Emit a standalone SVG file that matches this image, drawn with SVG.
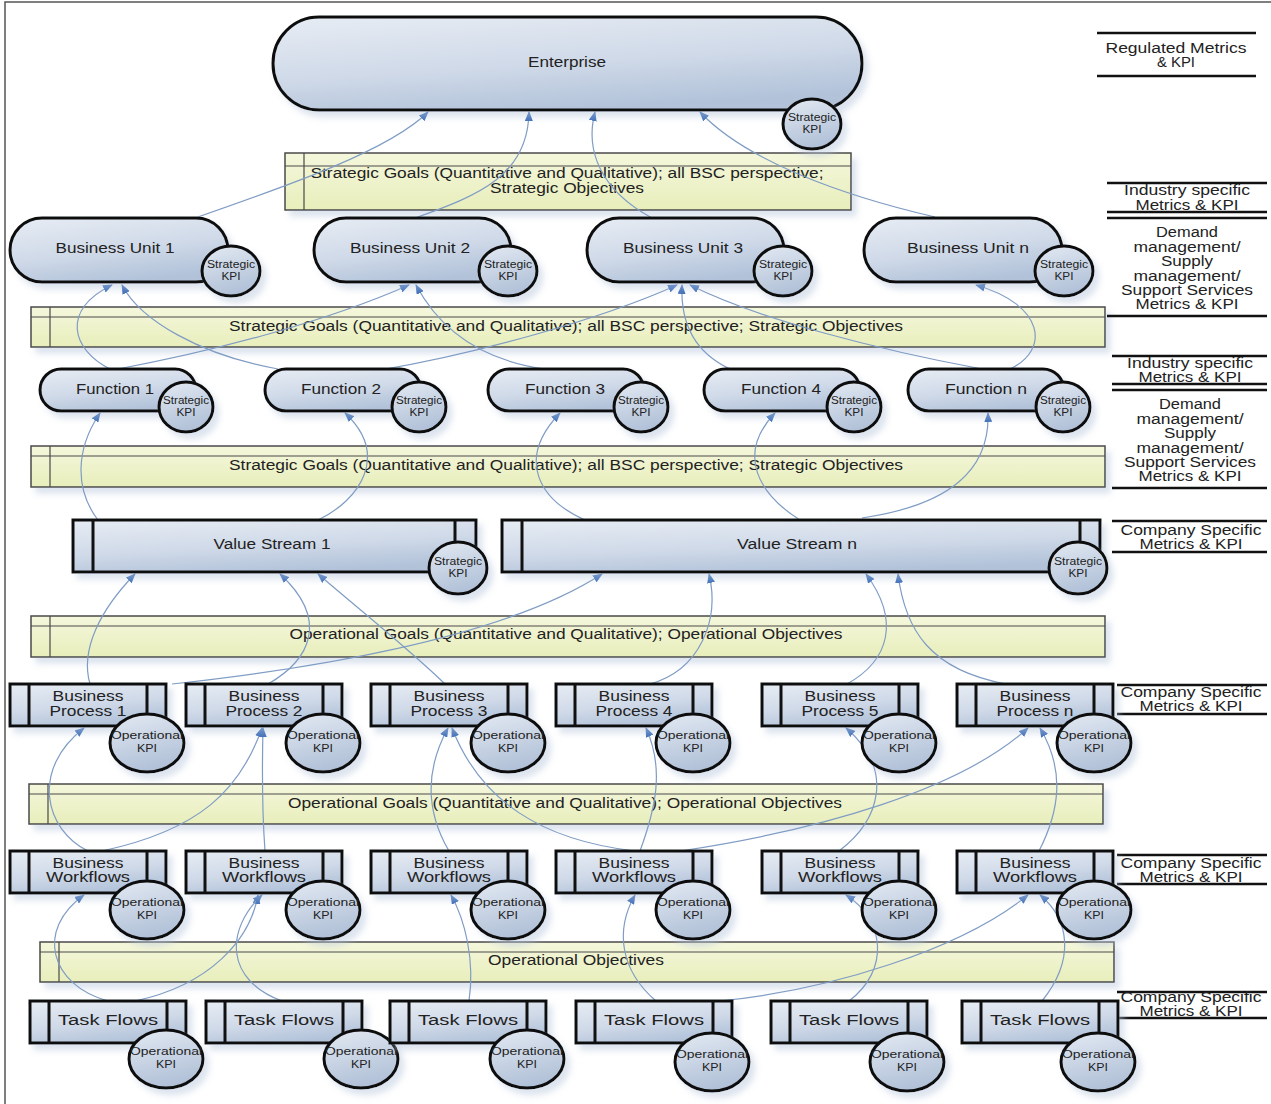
<svg xmlns="http://www.w3.org/2000/svg" width="1271" height="1104" viewBox="0 0 1271 1104">
  <defs>
    <linearGradient id="gNode" x1="0.15" y1="0" x2="0.55" y2="1">
      <stop offset="0" stop-color="#e5ebf3"/>
      <stop offset="0.55" stop-color="#cfd9e8"/>
      <stop offset="1" stop-color="#b1c2d9"/>
    </linearGradient>
    <linearGradient id="gKpi" x1="0.2" y1="0" x2="0.5" y2="1">
      <stop offset="0" stop-color="#e0e7f1"/>
      <stop offset="1" stop-color="#b0c0d7"/>
    </linearGradient>
    <linearGradient id="gBand" x1="0" y1="0" x2="0" y2="1">
      <stop offset="0" stop-color="#f5f7dc"/>
      <stop offset="1" stop-color="#e8eebb"/>
    </linearGradient>
    <filter id="shadow" x="-10%" y="-20%" width="130%" height="160%">
      <feDropShadow dx="5" dy="6" stdDeviation="3" flood-color="#b4c3da" flood-opacity="0.45"/>
    </filter>
    <marker id="arrow" markerUnits="userSpaceOnUse" markerWidth="10" markerHeight="8" refX="9" refY="4" orient="auto">
      <path d="M0,0 L10,4 L0,8 z" fill="#3f6fb8"/>
    </marker>
    <style>
      .node { fill: url(#gNode); stroke: #111; stroke-width: 3; filter: url(#shadow); }
      .col { fill: none; stroke: #111; stroke-width: 3; }
      .kpi { fill: url(#gKpi); stroke: #111; stroke-width: 3; filter: url(#shadow); }
      .band { fill: url(#gBand); stroke: #4a4a4a; stroke-width: 1.5; filter: url(#shadow); }
      .bl { fill: none; stroke: #4a4a4a; stroke-width: 1.2; }
      .t { font-family: "Liberation Sans", Arial, sans-serif; font-size: 14px; fill: #222; text-anchor: middle; }
      .k { font-size: 10px; }
      .conn path { fill: none; stroke: #7f9cc4; stroke-width: 1.2; marker-end: url(#arrow); }
      .rule { stroke: #111; stroke-width: 2.5; }
      .frame { fill: none; stroke: #555; stroke-width: 1.5; }
    </style>
  </defs>

  <rect width="1271" height="1104" fill="#ffffff"/>
  <path class="frame" d="M5,1104 V2 H1271"/>

  <!-- goal / objective bands -->
  <g id="band-strategic-1">
    <rect class="band" x="285" y="153" width="566" height="57"/>
    <path class="bl" d="M285,166 H851 M304,153 V210"/>
    <text class="t" x="567" y="178" textLength="513" lengthAdjust="spacingAndGlyphs">Strategic Goals (Quantitative and Qualitative); all BSC perspective;</text>
    <text class="t" x="567" y="193" textLength="154" lengthAdjust="spacingAndGlyphs">Strategic Objectives</text>
  </g>
  <g id="band-strategic-2">
    <rect class="band" x="31" y="307" width="1074" height="40"/>
    <path class="bl" d="M31,317 H1105 M50,307 V347"/>
    <text class="t" x="566" y="331" textLength="674" lengthAdjust="spacingAndGlyphs">Strategic Goals (Quantitative and Qualitative); all BSC perspective; Strategic Objectives</text>
  </g>
  <g id="band-strategic-3">
    <rect class="band" x="31" y="446" width="1074" height="41"/>
    <path class="bl" d="M31,456 H1105 M50,446 V487"/>
    <text class="t" x="566" y="470" textLength="674" lengthAdjust="spacingAndGlyphs">Strategic Goals (Quantitative and Qualitative); all BSC perspective; Strategic Objectives</text>
  </g>
  <g id="band-operational-1">
    <rect class="band" x="31" y="616" width="1074" height="41"/>
    <path class="bl" d="M31,626 H1105 M50,616 V657"/>
    <text class="t" x="566" y="639" textLength="553" lengthAdjust="spacingAndGlyphs">Operational Goals (Quantitative and Qualitative); Operational Objectives</text>
  </g>
  <g id="band-operational-2">
    <rect class="band" x="29" y="784" width="1074" height="40"/>
    <path class="bl" d="M29,794 H1103 M48,784 V824"/>
    <text class="t" x="565" y="808" textLength="554" lengthAdjust="spacingAndGlyphs">Operational Goals (Quantitative and Qualitative); Operational Objectives</text>
  </g>
  <g id="band-operational-3">
    <rect class="band" x="40" y="942" width="1074" height="40"/>
    <path class="bl" d="M40,952 H1114 M59,942 V982"/>
    <text class="t" x="576" y="965" textLength="176" lengthAdjust="spacingAndGlyphs">Operational Objectives</text>
  </g>

  <!-- metric category labels on the right -->
  <g id="metric-labels">
    <path class="rule" d="M1097,33 H1256 M1097,76 H1256"/>
    <text class="t" x="1176" y="53" textLength="141" lengthAdjust="spacingAndGlyphs">Regulated Metrics</text>
    <text class="t" x="1176" y="67" textLength="38" lengthAdjust="spacingAndGlyphs">&amp; KPI</text>

    <path class="rule" d="M1107,183 H1267 M1107,212 H1267 M1107,218 H1267 M1107,316 H1267"/>
    <text class="t" x="1187" y="195" textLength="126" lengthAdjust="spacingAndGlyphs">Industry specific</text>
    <text class="t" x="1187" y="210" textLength="103" lengthAdjust="spacingAndGlyphs">Metrics &amp; KPI</text>
    <text class="t" x="1187" y="237" textLength="62" lengthAdjust="spacingAndGlyphs">Demand</text>
    <text class="t" x="1187" y="252" textLength="107" lengthAdjust="spacingAndGlyphs">management/</text>
    <text class="t" x="1187" y="266" textLength="52" lengthAdjust="spacingAndGlyphs">Supply</text>
    <text class="t" x="1187" y="281" textLength="107" lengthAdjust="spacingAndGlyphs">management/</text>
    <text class="t" x="1187" y="295" textLength="132" lengthAdjust="spacingAndGlyphs">Support Services</text>
    <text class="t" x="1187" y="309" textLength="103" lengthAdjust="spacingAndGlyphs">Metrics &amp; KPI</text>

    <path class="rule" d="M1112,356 H1267 M1112,384 H1267 M1112,390 H1267 M1112,488 H1267"/>
    <text class="t" x="1190" y="368" textLength="126" lengthAdjust="spacingAndGlyphs">Industry specific</text>
    <text class="t" x="1190" y="382" textLength="103" lengthAdjust="spacingAndGlyphs">Metrics &amp; KPI</text>
    <text class="t" x="1190" y="409" textLength="62" lengthAdjust="spacingAndGlyphs">Demand</text>
    <text class="t" x="1190" y="424" textLength="107" lengthAdjust="spacingAndGlyphs">management/</text>
    <text class="t" x="1190" y="438" textLength="52" lengthAdjust="spacingAndGlyphs">Supply</text>
    <text class="t" x="1190" y="453" textLength="107" lengthAdjust="spacingAndGlyphs">management/</text>
    <text class="t" x="1190" y="467" textLength="132" lengthAdjust="spacingAndGlyphs">Support Services</text>
    <text class="t" x="1190" y="481" textLength="103" lengthAdjust="spacingAndGlyphs">Metrics &amp; KPI</text>

    <path class="rule" d="M1112,521 H1267 M1112,552 H1267"/>
    <text class="t" x="1191" y="535" textLength="141" lengthAdjust="spacingAndGlyphs">Company Specific</text>
    <text class="t" x="1191" y="549" textLength="103" lengthAdjust="spacingAndGlyphs">Metrics &amp; KPI</text>

    <path class="rule" d="M1117,685 H1267 M1117,714 H1267"/>
    <text class="t" x="1191" y="697" textLength="141" lengthAdjust="spacingAndGlyphs">Company Specific</text>
    <text class="t" x="1191" y="711" textLength="103" lengthAdjust="spacingAndGlyphs">Metrics &amp; KPI</text>

    <path class="rule" d="M1117,855 H1267 M1117,884 H1267"/>
    <text class="t" x="1191" y="868" textLength="141" lengthAdjust="spacingAndGlyphs">Company Specific</text>
    <text class="t" x="1191" y="882" textLength="103" lengthAdjust="spacingAndGlyphs">Metrics &amp; KPI</text>

    <path class="rule" d="M1117,992 H1267 M1117,1018 H1267"/>
    <text class="t" x="1191" y="1002" textLength="141" lengthAdjust="spacingAndGlyphs">Company Specific</text>
    <text class="t" x="1191" y="1016" textLength="103" lengthAdjust="spacingAndGlyphs">Metrics &amp; KPI</text>
  </g>

  <!-- contribution links: each curve points up to the node it feeds -->
  <g id="connectors" class="conn">
    <!-- business units to enterprise -->
    <path d="M195,218 C290,185 390,150 428,112"/>
    <path d="M415,218 C480,195 528,175 529,112"/>
    <path d="M652,218 C600,190 585,150 595,112"/>
    <path d="M935,217 C840,195 745,160 700,112"/>
    <!-- functions to business units -->
    <path d="M110,369 C72,350 60,310 112,285"/>
    <path d="M278,369 C200,355 140,320 122,285"/>
    <path d="M118,369 C220,350 330,320 409,285"/>
    <path d="M545,369 C480,360 440,330 416,285"/>
    <path d="M380,370 C470,355 600,320 677,285"/>
    <path d="M730,369 C700,355 680,330 682,285"/>
    <path d="M982,369 C880,350 760,320 690,285"/>
    <path d="M1010,369 C1050,350 1045,305 976,285"/>
    <!-- value streams to functions -->
    <path d="M98,520 C75,490 75,450 100,413"/>
    <path d="M318,520 C360,500 390,455 345,413"/>
    <path d="M585,520 C540,500 515,460 560,413"/>
    <path d="M800,520 C760,495 735,455 775,413"/>
    <path d="M862,518 C950,505 990,470 988,413"/>
    <!-- business processes to value streams -->
    <path d="M90,684 C80,650 100,610 135,574"/>
    <path d="M268,684 C310,660 330,620 280,574"/>
    <path d="M445,684 C410,650 360,610 318,574"/>
    <path d="M172,684 C300,670 500,640 602,574"/>
    <path d="M650,684 C700,670 720,620 709,574"/>
    <path d="M847,684 C890,660 900,620 866,574"/>
    <path d="M1006,684 C930,670 905,630 898,574"/>
    <!-- workflows to business processes -->
    <path d="M88,851 C45,830 30,770 84,728"/>
    <path d="M102,851 C200,830 240,790 262,728"/>
    <path d="M265,851 C262,810 262,770 263,728"/>
    <path d="M449,851 C425,810 425,770 448,728"/>
    <path d="M635,851 C540,840 480,800 452,728"/>
    <path d="M640,851 C655,810 665,770 646,728"/>
    <path d="M680,851 C820,830 960,790 1028,728"/>
    <path d="M839,851 C880,820 895,770 846,728"/>
    <path d="M1039,851 C1060,810 1065,770 1040,728"/>
    <!-- task flows to workflows -->
    <path d="M108,1001 C50,985 35,930 84,895"/>
    <path d="M135,1001 C210,985 250,940 258,895"/>
    <path d="M282,1001 C225,980 225,930 262,895"/>
    <path d="M469,1001 C475,960 465,920 451,895"/>
    <path d="M656,1001 C620,970 615,930 635,895"/>
    <path d="M849,1001 C890,970 885,920 846,895"/>
    <path d="M720,1001 C830,990 960,950 1028,895"/>
    <path d="M1042,1001 C1075,960 1070,920 1040,895"/>
  </g>

  <!-- enterprise -->
  <g id="enterprise">
    <rect class="node" x="273" y="17" width="589" height="93" rx="46"/>
    <text class="t" x="567" y="67" textLength="78" lengthAdjust="spacingAndGlyphs">Enterprise</text>
    <ellipse class="kpi" cx="812" cy="124" rx="29" ry="25"/>
    <text class="t k" x="812" y="121" textLength="48" lengthAdjust="spacingAndGlyphs">Strategic</text>
    <text class="t k" x="812" y="133" textLength="19" lengthAdjust="spacingAndGlyphs">KPI</text>
  </g>

  <!-- business units -->
  <g id="business-unit-1">
    <rect class="node" x="10" y="218" width="218" height="64" rx="32"/>
    <text class="t" x="115" y="253" textLength="119" lengthAdjust="spacingAndGlyphs">Business Unit 1</text>
    <ellipse class="kpi" cx="231" cy="271" rx="29" ry="25"/>
    <text class="t k" x="231" y="268" textLength="48" lengthAdjust="spacingAndGlyphs">Strategic</text>
    <text class="t k" x="231" y="280" textLength="19" lengthAdjust="spacingAndGlyphs">KPI</text>
  </g>
  <g id="business-unit-2">
    <rect class="node" x="314" y="218" width="197" height="64" rx="32"/>
    <text class="t" x="410" y="253" textLength="120" lengthAdjust="spacingAndGlyphs">Business Unit 2</text>
    <ellipse class="kpi" cx="508" cy="271" rx="29" ry="25"/>
    <text class="t k" x="508" y="268" textLength="48" lengthAdjust="spacingAndGlyphs">Strategic</text>
    <text class="t k" x="508" y="280" textLength="19" lengthAdjust="spacingAndGlyphs">KPI</text>
  </g>
  <g id="business-unit-3">
    <rect class="node" x="587" y="218" width="197" height="64" rx="32"/>
    <text class="t" x="683" y="253" textLength="120" lengthAdjust="spacingAndGlyphs">Business Unit 3</text>
    <ellipse class="kpi" cx="783" cy="271" rx="29" ry="25"/>
    <text class="t k" x="783" y="268" textLength="48" lengthAdjust="spacingAndGlyphs">Strategic</text>
    <text class="t k" x="783" y="280" textLength="19" lengthAdjust="spacingAndGlyphs">KPI</text>
  </g>
  <g id="business-unit-n">
    <rect class="node" x="864" y="218" width="198" height="64" rx="32"/>
    <text class="t" x="968" y="253" textLength="122" lengthAdjust="spacingAndGlyphs">Business Unit n</text>
    <ellipse class="kpi" cx="1064" cy="271" rx="29" ry="25"/>
    <text class="t k" x="1064" y="268" textLength="48" lengthAdjust="spacingAndGlyphs">Strategic</text>
    <text class="t k" x="1064" y="280" textLength="19" lengthAdjust="spacingAndGlyphs">KPI</text>
  </g>

  <!-- functions -->
  <g id="function-1">
    <rect class="node" x="40" y="369" width="156" height="42" rx="21"/>
    <text class="t" x="115" y="394" textLength="78" lengthAdjust="spacingAndGlyphs">Function 1</text>
    <ellipse class="kpi" cx="186" cy="407" rx="27" ry="25"/>
    <text class="t k" x="186" y="404" textLength="46" lengthAdjust="spacingAndGlyphs">Strategic</text>
    <text class="t k" x="186" y="416" textLength="19" lengthAdjust="spacingAndGlyphs">KPI</text>
  </g>
  <g id="function-2">
    <rect class="node" x="265" y="369" width="156" height="42" rx="21"/>
    <text class="t" x="341" y="394" textLength="80" lengthAdjust="spacingAndGlyphs">Function 2</text>
    <ellipse class="kpi" cx="419" cy="407" rx="27" ry="25"/>
    <text class="t k" x="419" y="404" textLength="46" lengthAdjust="spacingAndGlyphs">Strategic</text>
    <text class="t k" x="419" y="416" textLength="19" lengthAdjust="spacingAndGlyphs">KPI</text>
  </g>
  <g id="function-3">
    <rect class="node" x="488" y="369" width="156" height="42" rx="21"/>
    <text class="t" x="565" y="394" textLength="80" lengthAdjust="spacingAndGlyphs">Function 3</text>
    <ellipse class="kpi" cx="641" cy="407" rx="27" ry="25"/>
    <text class="t k" x="641" y="404" textLength="46" lengthAdjust="spacingAndGlyphs">Strategic</text>
    <text class="t k" x="641" y="416" textLength="19" lengthAdjust="spacingAndGlyphs">KPI</text>
  </g>
  <g id="function-4">
    <rect class="node" x="704" y="369" width="156" height="42" rx="21"/>
    <text class="t" x="781" y="394" textLength="80" lengthAdjust="spacingAndGlyphs">Function 4</text>
    <ellipse class="kpi" cx="854" cy="407" rx="27" ry="25"/>
    <text class="t k" x="854" y="404" textLength="46" lengthAdjust="spacingAndGlyphs">Strategic</text>
    <text class="t k" x="854" y="416" textLength="19" lengthAdjust="spacingAndGlyphs">KPI</text>
  </g>
  <g id="function-n">
    <rect class="node" x="908" y="369" width="156" height="42" rx="21"/>
    <text class="t" x="986" y="394" textLength="82" lengthAdjust="spacingAndGlyphs">Function n</text>
    <ellipse class="kpi" cx="1063" cy="407" rx="27" ry="25"/>
    <text class="t k" x="1063" y="404" textLength="46" lengthAdjust="spacingAndGlyphs">Strategic</text>
    <text class="t k" x="1063" y="416" textLength="19" lengthAdjust="spacingAndGlyphs">KPI</text>
  </g>

  <!-- value streams -->
  <g id="value-stream-1">
    <rect class="node" x="73" y="520" width="403" height="52"/>
    <path class="col" d="M93,520 V572 M455,520 V572"/>
    <text class="t" x="272" y="549" textLength="117" lengthAdjust="spacingAndGlyphs">Value Stream 1</text>
    <ellipse class="kpi" cx="458" cy="568" rx="29" ry="26"/>
    <text class="t k" x="458" y="565" textLength="48" lengthAdjust="spacingAndGlyphs">Strategic</text>
    <text class="t k" x="458" y="577" textLength="19" lengthAdjust="spacingAndGlyphs">KPI</text>
  </g>
  <g id="value-stream-n">
    <rect class="node" x="502" y="520" width="598" height="52"/>
    <path class="col" d="M522,520 V572 M1080,520 V572"/>
    <text class="t" x="797" y="549" textLength="120" lengthAdjust="spacingAndGlyphs">Value Stream n</text>
    <ellipse class="kpi" cx="1078" cy="568" rx="29" ry="26"/>
    <text class="t k" x="1078" y="565" textLength="48" lengthAdjust="spacingAndGlyphs">Strategic</text>
    <text class="t k" x="1078" y="577" textLength="19" lengthAdjust="spacingAndGlyphs">KPI</text>
  </g>

  <!-- business processes -->
  <g id="business-process-1">
    <rect class="node" x="10" y="684" width="156" height="42"/>
    <path class="col" d="M29,684 V726 M147,684 V726"/>
    <text class="t" x="88" y="701" textLength="71" lengthAdjust="spacingAndGlyphs">Business</text>
    <text class="t" x="88" y="716" textLength="77" lengthAdjust="spacingAndGlyphs">Process 1</text>
    <ellipse class="kpi" cx="147" cy="743" rx="37" ry="29"/>
    <text class="t k" x="147" y="739" textLength="72" lengthAdjust="spacingAndGlyphs">Operational</text>
    <text class="t k" x="147" y="752" textLength="20" lengthAdjust="spacingAndGlyphs">KPI</text>
  </g>
  <g id="business-process-2">
    <rect class="node" x="186" y="684" width="156" height="42"/>
    <path class="col" d="M205,684 V726 M323,684 V726"/>
    <text class="t" x="264" y="701" textLength="71" lengthAdjust="spacingAndGlyphs">Business</text>
    <text class="t" x="264" y="716" textLength="77" lengthAdjust="spacingAndGlyphs">Process 2</text>
    <ellipse class="kpi" cx="323" cy="743" rx="37" ry="29"/>
    <text class="t k" x="323" y="739" textLength="72" lengthAdjust="spacingAndGlyphs">Operational</text>
    <text class="t k" x="323" y="752" textLength="20" lengthAdjust="spacingAndGlyphs">KPI</text>
  </g>
  <g id="business-process-3">
    <rect class="node" x="371" y="684" width="156" height="42"/>
    <path class="col" d="M390,684 V726 M508,684 V726"/>
    <text class="t" x="449" y="701" textLength="71" lengthAdjust="spacingAndGlyphs">Business</text>
    <text class="t" x="449" y="716" textLength="77" lengthAdjust="spacingAndGlyphs">Process 3</text>
    <ellipse class="kpi" cx="508" cy="743" rx="37" ry="29"/>
    <text class="t k" x="508" y="739" textLength="72" lengthAdjust="spacingAndGlyphs">Operational</text>
    <text class="t k" x="508" y="752" textLength="20" lengthAdjust="spacingAndGlyphs">KPI</text>
  </g>
  <g id="business-process-4">
    <rect class="node" x="556" y="684" width="156" height="42"/>
    <path class="col" d="M575,684 V726 M693,684 V726"/>
    <text class="t" x="634" y="701" textLength="71" lengthAdjust="spacingAndGlyphs">Business</text>
    <text class="t" x="634" y="716" textLength="77" lengthAdjust="spacingAndGlyphs">Process 4</text>
    <ellipse class="kpi" cx="693" cy="743" rx="37" ry="29"/>
    <text class="t k" x="693" y="739" textLength="72" lengthAdjust="spacingAndGlyphs">Operational</text>
    <text class="t k" x="693" y="752" textLength="20" lengthAdjust="spacingAndGlyphs">KPI</text>
  </g>
  <g id="business-process-5">
    <rect class="node" x="762" y="684" width="156" height="42"/>
    <path class="col" d="M781,684 V726 M899,684 V726"/>
    <text class="t" x="840" y="701" textLength="71" lengthAdjust="spacingAndGlyphs">Business</text>
    <text class="t" x="840" y="716" textLength="77" lengthAdjust="spacingAndGlyphs">Process 5</text>
    <ellipse class="kpi" cx="899" cy="743" rx="37" ry="29"/>
    <text class="t k" x="899" y="739" textLength="72" lengthAdjust="spacingAndGlyphs">Operational</text>
    <text class="t k" x="899" y="752" textLength="20" lengthAdjust="spacingAndGlyphs">KPI</text>
  </g>
  <g id="business-process-n">
    <rect class="node" x="957" y="684" width="156" height="42"/>
    <path class="col" d="M976,684 V726 M1094,684 V726"/>
    <text class="t" x="1035" y="701" textLength="71" lengthAdjust="spacingAndGlyphs">Business</text>
    <text class="t" x="1035" y="716" textLength="77" lengthAdjust="spacingAndGlyphs">Process n</text>
    <ellipse class="kpi" cx="1094" cy="743" rx="37" ry="29"/>
    <text class="t k" x="1094" y="739" textLength="72" lengthAdjust="spacingAndGlyphs">Operational</text>
    <text class="t k" x="1094" y="752" textLength="20" lengthAdjust="spacingAndGlyphs">KPI</text>
  </g>

  <!-- business workflows -->
  <g id="workflow-1">
    <rect class="node" x="10" y="851" width="156" height="42"/>
    <path class="col" d="M29,851 V893 M147,851 V893"/>
    <text class="t" x="88" y="868" textLength="71" lengthAdjust="spacingAndGlyphs">Business</text>
    <text class="t" x="88" y="882" textLength="84" lengthAdjust="spacingAndGlyphs">Workflows</text>
    <ellipse class="kpi" cx="147" cy="910" rx="37" ry="29"/>
    <text class="t k" x="147" y="906" textLength="72" lengthAdjust="spacingAndGlyphs">Operational</text>
    <text class="t k" x="147" y="919" textLength="20" lengthAdjust="spacingAndGlyphs">KPI</text>
  </g>
  <g id="workflow-2">
    <rect class="node" x="186" y="851" width="156" height="42"/>
    <path class="col" d="M205,851 V893 M323,851 V893"/>
    <text class="t" x="264" y="868" textLength="71" lengthAdjust="spacingAndGlyphs">Business</text>
    <text class="t" x="264" y="882" textLength="84" lengthAdjust="spacingAndGlyphs">Workflows</text>
    <ellipse class="kpi" cx="323" cy="910" rx="37" ry="29"/>
    <text class="t k" x="323" y="906" textLength="72" lengthAdjust="spacingAndGlyphs">Operational</text>
    <text class="t k" x="323" y="919" textLength="20" lengthAdjust="spacingAndGlyphs">KPI</text>
  </g>
  <g id="workflow-3">
    <rect class="node" x="371" y="851" width="156" height="42"/>
    <path class="col" d="M390,851 V893 M508,851 V893"/>
    <text class="t" x="449" y="868" textLength="71" lengthAdjust="spacingAndGlyphs">Business</text>
    <text class="t" x="449" y="882" textLength="84" lengthAdjust="spacingAndGlyphs">Workflows</text>
    <ellipse class="kpi" cx="508" cy="910" rx="37" ry="29"/>
    <text class="t k" x="508" y="906" textLength="72" lengthAdjust="spacingAndGlyphs">Operational</text>
    <text class="t k" x="508" y="919" textLength="20" lengthAdjust="spacingAndGlyphs">KPI</text>
  </g>
  <g id="workflow-4">
    <rect class="node" x="556" y="851" width="156" height="42"/>
    <path class="col" d="M575,851 V893 M693,851 V893"/>
    <text class="t" x="634" y="868" textLength="71" lengthAdjust="spacingAndGlyphs">Business</text>
    <text class="t" x="634" y="882" textLength="84" lengthAdjust="spacingAndGlyphs">Workflows</text>
    <ellipse class="kpi" cx="693" cy="910" rx="37" ry="29"/>
    <text class="t k" x="693" y="906" textLength="72" lengthAdjust="spacingAndGlyphs">Operational</text>
    <text class="t k" x="693" y="919" textLength="20" lengthAdjust="spacingAndGlyphs">KPI</text>
  </g>
  <g id="workflow-5">
    <rect class="node" x="762" y="851" width="156" height="42"/>
    <path class="col" d="M781,851 V893 M899,851 V893"/>
    <text class="t" x="840" y="868" textLength="71" lengthAdjust="spacingAndGlyphs">Business</text>
    <text class="t" x="840" y="882" textLength="84" lengthAdjust="spacingAndGlyphs">Workflows</text>
    <ellipse class="kpi" cx="899" cy="910" rx="37" ry="29"/>
    <text class="t k" x="899" y="906" textLength="72" lengthAdjust="spacingAndGlyphs">Operational</text>
    <text class="t k" x="899" y="919" textLength="20" lengthAdjust="spacingAndGlyphs">KPI</text>
  </g>
  <g id="workflow-n">
    <rect class="node" x="957" y="851" width="156" height="42"/>
    <path class="col" d="M976,851 V893 M1094,851 V893"/>
    <text class="t" x="1035" y="868" textLength="71" lengthAdjust="spacingAndGlyphs">Business</text>
    <text class="t" x="1035" y="882" textLength="84" lengthAdjust="spacingAndGlyphs">Workflows</text>
    <ellipse class="kpi" cx="1094" cy="910" rx="37" ry="29"/>
    <text class="t k" x="1094" y="906" textLength="72" lengthAdjust="spacingAndGlyphs">Operational</text>
    <text class="t k" x="1094" y="919" textLength="20" lengthAdjust="spacingAndGlyphs">KPI</text>
  </g>

  <!-- task flows -->
  <g id="task-flow-1">
    <rect class="node" x="30" y="1001" width="156" height="42"/>
    <path class="col" d="M49,1001 V1043 M167,1001 V1043"/>
    <text class="t" x="108" y="1025" textLength="100" lengthAdjust="spacingAndGlyphs">Task Flows</text>
    <ellipse class="kpi" cx="166" cy="1059" rx="37" ry="29"/>
    <text class="t k" x="166" y="1055" textLength="72" lengthAdjust="spacingAndGlyphs">Operational</text>
    <text class="t k" x="166" y="1068" textLength="20" lengthAdjust="spacingAndGlyphs">KPI</text>
  </g>
  <g id="task-flow-2">
    <rect class="node" x="206" y="1001" width="156" height="42"/>
    <path class="col" d="M225,1001 V1043 M343,1001 V1043"/>
    <text class="t" x="284" y="1025" textLength="100" lengthAdjust="spacingAndGlyphs">Task Flows</text>
    <ellipse class="kpi" cx="361" cy="1059" rx="37" ry="29"/>
    <text class="t k" x="361" y="1055" textLength="72" lengthAdjust="spacingAndGlyphs">Operational</text>
    <text class="t k" x="361" y="1068" textLength="20" lengthAdjust="spacingAndGlyphs">KPI</text>
  </g>
  <g id="task-flow-3">
    <rect class="node" x="390" y="1001" width="156" height="42"/>
    <path class="col" d="M409,1001 V1043 M527,1001 V1043"/>
    <text class="t" x="468" y="1025" textLength="100" lengthAdjust="spacingAndGlyphs">Task Flows</text>
    <ellipse class="kpi" cx="527" cy="1059" rx="37" ry="29"/>
    <text class="t k" x="527" y="1055" textLength="72" lengthAdjust="spacingAndGlyphs">Operational</text>
    <text class="t k" x="527" y="1068" textLength="20" lengthAdjust="spacingAndGlyphs">KPI</text>
  </g>
  <g id="task-flow-4">
    <rect class="node" x="576" y="1001" width="156" height="42"/>
    <path class="col" d="M595,1001 V1043 M713,1001 V1043"/>
    <text class="t" x="654" y="1025" textLength="100" lengthAdjust="spacingAndGlyphs">Task Flows</text>
    <ellipse class="kpi" cx="712" cy="1062" rx="37" ry="29"/>
    <text class="t k" x="712" y="1058" textLength="72" lengthAdjust="spacingAndGlyphs">Operational</text>
    <text class="t k" x="712" y="1071" textLength="20" lengthAdjust="spacingAndGlyphs">KPI</text>
  </g>
  <g id="task-flow-5">
    <rect class="node" x="771" y="1001" width="156" height="42"/>
    <path class="col" d="M790,1001 V1043 M908,1001 V1043"/>
    <text class="t" x="849" y="1025" textLength="100" lengthAdjust="spacingAndGlyphs">Task Flows</text>
    <ellipse class="kpi" cx="907" cy="1062" rx="37" ry="29"/>
    <text class="t k" x="907" y="1058" textLength="72" lengthAdjust="spacingAndGlyphs">Operational</text>
    <text class="t k" x="907" y="1071" textLength="20" lengthAdjust="spacingAndGlyphs">KPI</text>
  </g>
  <g id="task-flow-6">
    <rect class="node" x="962" y="1001" width="156" height="42"/>
    <path class="col" d="M981,1001 V1043 M1099,1001 V1043"/>
    <text class="t" x="1040" y="1025" textLength="100" lengthAdjust="spacingAndGlyphs">Task Flows</text>
    <ellipse class="kpi" cx="1098" cy="1062" rx="37" ry="29"/>
    <text class="t k" x="1098" y="1058" textLength="72" lengthAdjust="spacingAndGlyphs">Operational</text>
    <text class="t k" x="1098" y="1071" textLength="20" lengthAdjust="spacingAndGlyphs">KPI</text>
  </g>
</svg>
